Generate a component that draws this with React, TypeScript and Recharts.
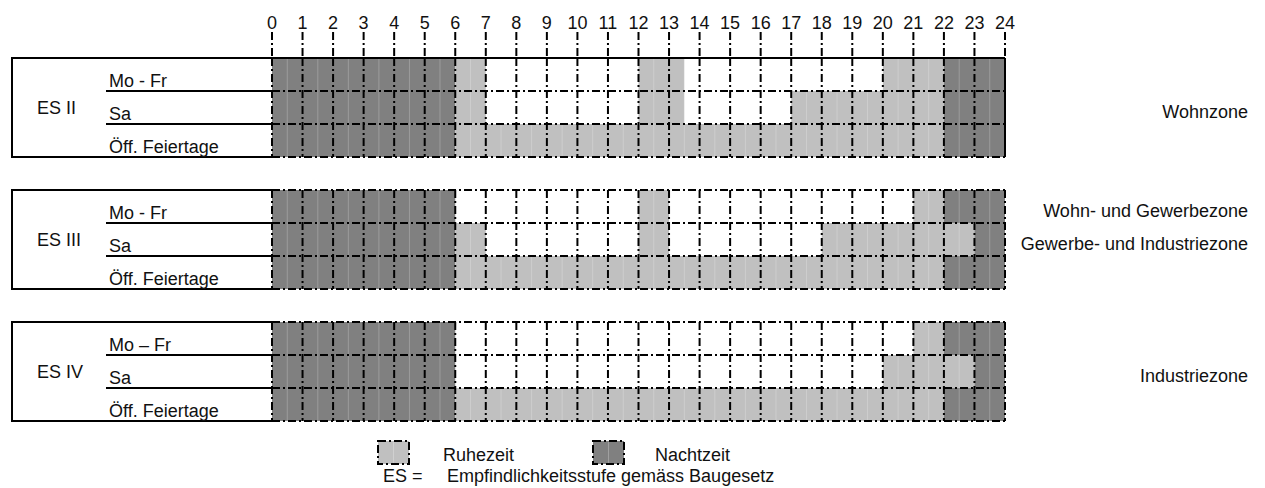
import { BarChart, Bar, Cell, XAxis, YAxis, ReferenceLine, Legend } from "recharts";

const hours = [0, 1, 2, 3, 4, 5, 6, 7, 8, 9, 10, 11, 12, 13, 14, 15, 16, 17, 18, 19, 20, 21, 22, 23, 24];
const groups = ["ES II", "ES III", "ES IV"];
const dayLabels = [
	["Mo - Fr", "Sa", "Öff. Feiertage"],
	["Mo - Fr", "Sa", "Öff. Feiertage"],
	["Mo – Fr", "Sa", "Öff. Feiertage"],
];
const zoneLabels = [
	["", "Wohnzone", ""],
	["Wohn- und Gewerbezone", "Gewerbe- und Industriezone", ""],
	["", "Industriezone", ""],
];

// [duration in hours, kind]  N = Nachtzeit, R = Ruhezeit, "" = nothing
type Seg = [number, string];
const esII: Seg[][] = [
	[[6, "N"], [1, "R"], [5, ""], [1.5, "R"], [6.5, ""], [2, "R"], [2, "N"]],
	[[6, "N"], [1, "R"], [5, ""], [1.5, "R"], [3.5, ""], [5, "R"], [2, "N"]],
	[[6, "N"], [16, "R"], [2, "N"]],
];
const esIII: Seg[][] = [
	[[6, "N"], [6, ""], [1, "R"], [8, ""], [1, "R"], [2, "N"]],
	[[6, "N"], [1, "R"], [5, ""], [1, "R"], [5, ""], [5, "R"], [1, "N"]],
	[[6, "N"], [16, "R"], [2, "N"]],
];
const esIV: Seg[][] = [
	[[6, "N"], [15, ""], [1, "R"], [2, "N"]],
	[[6, "N"], [14, ""], [3, "R"], [1, "N"]],
	[[6, "N"], [16, "R"], [2, "N"]],
];
const schedules = [esII, esIII, esIV];

const legendItems = [
	{ kind: "R", label: "Ruhezeit" },
	{ kind: "N", label: "Nachtzeit" },
];
const footnote = ["ES =", "Empfindlichkeitsstufe gemäss Baugesetz"];

const W = 1249;
const H = 480;
const ROW_H = 33;
const MAX_SEGS = 7;
const PLOT_LEFT = 264;
const FONT = "'Liberation Sans', Arial, Helvetica, sans-serif";
const DASH = "8 3 2 3";
const fills: Record<string, string> = { N: "#808080", R: "#c0c0c0" };

const rows: any[] = [];
schedules.forEach((sched, gi) => {
	sched.forEach((segs, r) => {
		const row: any = { id: `g${gi}r${r}`, gi, r, day: dayLabels[gi][r], zone: zoneLabels[gi][r] };
		for (let i = 0; i < MAX_SEGS; i++) {
			row[`s${i}`] = segs[i] ? segs[i][0] : 0;
			row[`k${i}`] = segs[i] ? segs[i][1] : "";
		}
		rows.push(row);
	});
	// empty row after each group (spacing / closing edge)
	const gap: any = { id: `g${gi}end`, gi, r: -1, day: "", zone: "" };
	for (let i = 0; i < MAX_SEGS; i++) {
		gap[`s${i}`] = 0;
		gap[`k${i}`] = "";
	}
	rows.push(gap);
});
const rowById: Record<string, any> = Object.fromEntries(rows.map((r) => [r.id, r]));

function RowTick(props: any) {
	const { y, payload } = props;
	const row = rowById[payload.value];
	if (!row || row.r < 0) return null;
	const top = y - ROW_H / 2;
	const bottom = y + ROW_H / 2;
	return (
		<g>
			{row.r === 0 && (
				<line x1={4} x2={PLOT_LEFT} y1={top} y2={top} stroke="#000" strokeWidth={2} />
			)}
			<line
				x1={row.r === 2 ? 4 : 98}
				x2={PLOT_LEFT}
				y1={bottom}
				y2={bottom}
				stroke="#000"
				strokeWidth={2}
			/>
			{row.r === 1 && (
				<>
					<line x1={4} x2={4} y1={top - ROW_H - 1} y2={bottom + ROW_H + 1} stroke="#000" strokeWidth={2} />
					<text x={29} y={y} dy="0.35em" fontSize={18} fill="#111">
						{groups[row.gi]}
					</text>
				</>
			)}
			<text x={101} y={bottom - 4} fontSize={18} fill="#111">
				{row.day}
			</text>
		</g>
	);
}

function ZoneTick(props: any) {
	const { y, payload } = props;
	const row = rowById[payload.value];
	if (!row || !row.zone) return null;
	return (
		<text x={1240} y={y + 4} dy="0.35em" textAnchor="end" fontSize={18} fill="#111">
			{row.zone}
		</text>
	);
}

function LegendBox() {
	const squareX = [369, 584];
	const textX = [435, 647];
	return (
		<div style={{ position: "relative", width: W, height: H, fontFamily: FONT, fontSize: 18, color: "#111" }}>
			{legendItems.map((item, i) => (
				<div key={item.label}>
					<svg style={{ position: "absolute", left: squareX[i], top: 432 }} width={34} height={26}>
						<rect x={1} y={1} width={31} height={23} fill={fills[item.kind]} stroke="#000" strokeWidth={2} strokeDasharray={DASH} />
						<line x1={16.5} x2={16.5} y1={2} y2={23} stroke="#fff" strokeOpacity={0.25} />
					</svg>
					<span style={{ position: "absolute", left: textX[i], top: 437, lineHeight: "20px" }}>{item.label}</span>
				</div>
			))}
			<span style={{ position: "absolute", left: 375, top: 458, lineHeight: "20px" }}>{footnote[0]}</span>
			<span style={{ position: "absolute", left: 439, top: 458, lineHeight: "20px" }}>{footnote[1]}</span>
		</div>
	);
}

export default function App() {
	return (
		<div style={{ width: W, height: H, fontFamily: FONT }}>
			<BarChart
				width={W}
				height={H}
				data={rows}
				layout="vertical"
				barCategoryGap={0}
				barGap={0}
				margin={{ top: 0, right: 0, bottom: H - 50 - rows.length * ROW_H, left: 0 }}
			>
				<XAxis
					type="number"
					orientation="top"
					domain={[0, 24]}
					ticks={hours}
					interval={0}
					height={50}
					axisLine={false}
					tickSize={26}
					tickMargin={3}
					tickLine={{ stroke: "#000", strokeWidth: 2, strokeDasharray: DASH }}
					tick={{ fill: "#111", fontSize: 18 }}
				/>
				<YAxis
					type="category"
					dataKey="id"
					width={PLOT_LEFT}
					interval={0}
					axisLine={false}
					tickLine={false}
					tick={(p: any) => <RowTick {...p} />}
				/>
				<YAxis
					yAxisId="zone"
					orientation="right"
					type="category"
					dataKey="id"
					width={W - PLOT_LEFT - 733}
					interval={0}
					axisLine={false}
					tickLine={false}
					tick={(p: any) => <ZoneTick {...p} />}
				/>
				{Array.from({ length: MAX_SEGS }, (_, i) => (
					<Bar key={i} dataKey={`s${i}`} stackId="t" isAnimationActive={false}>
						{rows.map((row) => (
							<Cell key={row.id} fill={fills[row[`k${i}`]] ?? "none"} />
						))}
					</Bar>
				))}
				{/* faint half-hour streaks inside the shaded cells */}
				{groups.map((_, gi) =>
					hours.slice(0, 24).map((h) => (
						<ReferenceLine
							key={`half-${gi}-${h}`}
							segment={[
								{ x: h + 0.5, y: `g${gi}r0` },
								{ x: h + 0.5, y: `g${gi}end` },
							]}
							position="start"
							stroke="#fff"
							strokeOpacity={0.22}
							strokeWidth={1}
						/>
					)),
				)}
				{groups.map((_, gi) =>
					hours.map((h) => (
						<ReferenceLine
							key={`v-${gi}-${h}`}
							segment={[
								{ x: h, y: `g${gi}r0` },
								{ x: h, y: `g${gi}end` },
							]}
							position="start"
							stroke="#000"
							strokeWidth={2}
							strokeDasharray={gi === 0 && h === 24 ? undefined : DASH}
						/>
					)),
				)}
				{groups.map((_, gi) =>
					[`g${gi}r0`, `g${gi}r1`, `g${gi}r2`, `g${gi}end`].map((id, j) => (
						<ReferenceLine
							key={`h-${id}`}
							y={id}
							position="start"
							stroke="#000"
							strokeWidth={2}
							strokeDasharray={gi === 0 && j === 0 ? undefined : DASH}
						/>
					)),
				)}
				<Legend
					layout="horizontal"
					verticalAlign="middle"
					align="center"
					wrapperStyle={{ left: 0, top: 0, width: W, height: H, pointerEvents: "none" }}
					content={() => <LegendBox />}
				/>
			</BarChart>
		</div>
	);
}
